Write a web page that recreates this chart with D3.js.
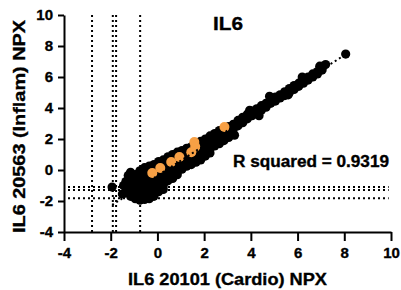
<!DOCTYPE html>
<html>
<head>
<meta charset="utf-8">
<script src="https://cdn.jsdelivr.net/npm/d3@7"></script>
<style>
  body { margin: 0; background: #fff; }
  svg { display: block; font-family: Arial, "Liberation Sans", sans-serif; }
  text { stroke: #000; stroke-width: 0.35px; }
</style>
</head>
<body>
<div id="chart"></div>
<script>
// IL6: Cardio vs Inflam panel NPX
const xTicks = [-4, -2, 0, 2, 4, 6, 8, 10];
const yTicks = [-4, -2, 0, 2, 4, 6, 8, 10];

// LOD cut-offs (dotted reference lines)
const xLod = [-2.8, -1.91, -1.77, -0.74];
const yLod = [-1.1, -1.29, -1.83];

// fit line ends
const fitX = [-1.94, 8.06];
const fitSlope = 0.972;
const fitIntercept = -0.37;
const rSquared = "0.9319";

// samples [cardio, inflam]
const blackPts = [
  [-1.94, -1.1],
  [-1.45, -1.0], [-1.25, -0.35], [-1.5, -1.55],
  [-1.35, -0.75], [-1.35, -1.1], [-1.35, -1.45],
  [-1.15, -0.15], [-1.15, -0.55], [-1.15, -1.0], [-1.15, -1.35], [-1.15, -1.7],
  [-0.95, -0.3], [-0.95, -0.7], [-0.95, -1.15], [-0.95, -1.55], [-0.95, -1.85],
  [-0.75, -0.05], [-0.75, -0.5], [-0.75, -0.9], [-0.75, -1.3], [-0.75, -1.7], [-0.75, -1.95],
  [-0.55, 0.15], [-0.55, -0.3], [-0.55, -0.75], [-0.55, -1.15], [-0.55, -1.55], [-0.55, -1.9],
  [-0.35, 0.25], [-0.35, -0.15], [-0.35, -0.6], [-0.35, -1.0], [-0.35, -1.45], [-0.35, -1.85],
  [-0.15, 0.35], [-0.15, -0.05], [-0.15, -0.45], [-0.15, -0.9], [-0.15, -1.3], [-0.15, -1.7],
  [0.05, 0.55], [0.05, 0.1], [0.05, -0.3], [0.05, -0.75], [0.05, -1.1], [0.05, -1.4],
  [0.25, 0.65], [0.25, 0.2], [0.25, -0.2], [0.25, -0.6], [0.25, -1.0], [0.25, -1.25],
  [0.45, 0.85], [0.45, 0.4], [0.45, 0.0], [0.45, -0.35], [0.45, -0.7],
  [0.65, 1.0], [0.65, 0.55], [0.65, 0.15], [0.65, -0.25], [0.65, -0.55],
  [0.85, 1.15], [0.85, 0.7], [0.85, 0.3], [0.85, -0.1], [0.85, -0.3],
  [1.05, 1.25], [1.05, 0.85], [1.05, 0.45], [1.05, 0.05],
  [1.25, 1.4], [1.25, 1.0], [1.25, 0.6], [1.25, 0.25],
  [1.45, 1.5], [1.45, 1.1], [1.45, 0.7], [1.45, 0.35],
  [1.65, 1.7], [1.65, 1.3], [1.65, 0.9], [1.65, 0.5],
  [1.85, 1.85], [1.85, 1.45], [1.85, 1.05], [1.85, 0.65],
  [2.05, 2.0], [2.05, 1.6], [2.05, 1.2], [2.05, 0.9],
  [2.25, 2.2], [2.25, 1.8], [2.25, 1.35], [2.25, 1.1],
  [2.45, 2.35], [2.45, 1.95], [2.45, 1.55],
  [2.65, 2.55], [2.65, 2.1], [2.65, 1.7],
  [2.85, 2.6], [2.85, 2.25], [2.85, 1.9],
  [3.05, 2.8], [3.05, 2.45], [3.05, 2.1],
  [3.25, 2.95], [3.25, 2.65], [3.3, 2.25],
  [3.45, 3.2], [3.45, 2.85], [3.65, 3.4], [3.65, 3.05],
  [3.85, 3.6], [3.85, 3.3], [3.95, 3.85], [4.05, 3.8], [4.05, 3.5],
  [4.25, 3.95], [4.25, 3.7], [4.35, 3.5], [4.45, 4.15], [4.45, 3.85],
  [4.65, 4.3], [4.65, 4.05], [4.8, 4.75], [4.85, 4.5], [4.85, 4.3],
  [5.05, 4.7], [5.05, 4.45], [5.25, 4.85], [5.25, 4.65],
  [5.45, 5.05], [5.45, 4.8], [5.6, 4.85], [5.65, 5.25], [5.65, 5.0],
  [5.85, 5.45], [5.85, 5.2], [6.05, 5.6], [6.05, 5.4],
  [6.2, 6.0], [6.25, 5.85], [6.25, 5.6], [6.45, 6.0], [6.45, 5.8],
  [6.65, 6.2], [6.65, 6.0], [6.85, 6.35], [6.85, 6.2], [6.95, 6.7],
  [7.05, 6.6], [7.05, 6.45], [7.2, 6.8],
  [8.06, 7.48]
];

const orangePts = [
  [-0.22, -0.19], [0.12, 0.13], [0.59, 0.52], [0.94, 0.84],
  [1.45, 1.15], [1.62, 1.5], [1.58, 1.8], [2.87, 2.77]
];

const width = 401, height = 290;
const margin = { top: 15, right: 10, bottom: 58, left: 64 };

const svg = d3.select("#chart").append("svg")
    .attr("width", width)
    .attr("height", height);

const x = d3.scaleLinear().domain([-4, 10]).range([margin.left, 391]);
const y = d3.scaleLinear().domain([-4, 10]).range([232, margin.top]);

// dotted LOD lines
svg.append("g").selectAll("line")
    .data(xLod)
    .join("line")
    .attr("x1", d => x(d)).attr("x2", d => x(d))
    .attr("y1", y(10)).attr("y2", y(-4))
    .attr("stroke", "#000").attr("stroke-width", 2)
    .attr("stroke-dasharray", "2,3");

svg.append("g").selectAll("line")
    .data(yLod)
    .join("line")
    .attr("x1", x(-4) + 4).attr("x2", x(9.9))
    .attr("y1", d => y(d)).attr("y2", d => y(d))
    .attr("stroke", "#000").attr("stroke-width", 2)
    .attr("stroke-dasharray", "2,3");

// points
svg.append("g").selectAll("circle")
    .data(blackPts)
    .join("circle")
    .attr("cx", d => x(d[0])).attr("cy", d => y(d[1]))
    .attr("r", 4.6)
    .attr("fill", "#000");

svg.append("g").selectAll("circle")
    .data(orangePts)
    .join("circle")
    .attr("cx", d => x(d[0])).attr("cy", d => y(d[1]))
    .attr("r", 5)
    .attr("fill", "#F7A045");

// regression line
svg.append("line")
    .attr("x1", x(fitX[0])).attr("y1", y(fitSlope * fitX[0] + fitIntercept))
    .attr("x2", x(fitX[1])).attr("y2", y(fitSlope * fitX[1] + fitIntercept))
    .attr("stroke", "#000").attr("stroke-width", 2)
    .attr("stroke-dasharray", "2,3");

// axes
const xAxis = svg.append("g")
    .attr("transform", `translate(0,${y(-4)})`)
    .call(d3.axisBottom(x).tickValues(xTicks).tickFormat(d => String(d)).tickSize(9).tickSizeOuter(0).tickPadding(6));

const yAxis = svg.append("g")
    .attr("transform", `translate(${x(-4)},0)`)
    .call(d3.axisLeft(y).tickValues(yTicks).tickFormat(d => String(d)).tickSize(6).tickSizeOuter(0).tickPadding(5));

[xAxis, yAxis].forEach(g => {
    g.select(".domain").attr("stroke", "#000").attr("stroke-width", 2);
    g.selectAll(".tick line").attr("stroke", "#000").attr("stroke-width", 2);
    g.selectAll(".tick text")
        .attr("fill", "#000")
        .style("font-family", "Arial, 'Liberation Sans', sans-serif")
        .style("font-size", "15px").style("font-weight", "bold");
});

// titles
svg.append("text")
    .attr("x", 213).attr("y", 30)
    .attr("textLength", 30).attr("lengthAdjust", "spacingAndGlyphs")
    .style("font-size", "19px").style("font-weight", "bold")
    .text("IL6");

svg.append("text")
    .attr("x", 233).attr("y", 167)
    .attr("textLength", 156).attr("lengthAdjust", "spacingAndGlyphs")
    .style("font-size", "16px").style("font-weight", "bold")
    .text("R squared = " + rSquared);

svg.append("text")
    .attr("x", 128).attr("y", 285)
    .attr("textLength", 199).attr("lengthAdjust", "spacingAndGlyphs")
    .style("font-size", "17px").style("font-weight", "bold")
    .text("IL6 20101 (Cardio) NPX");

svg.append("text")
    .attr("transform", `translate(25,233) rotate(-90)`)
    .attr("textLength", 213).attr("lengthAdjust", "spacingAndGlyphs")
    .style("font-size", "17px").style("font-weight", "bold")
    .text("IL6 20563 (Inflam) NPX");
</script>
</body>
</html>
